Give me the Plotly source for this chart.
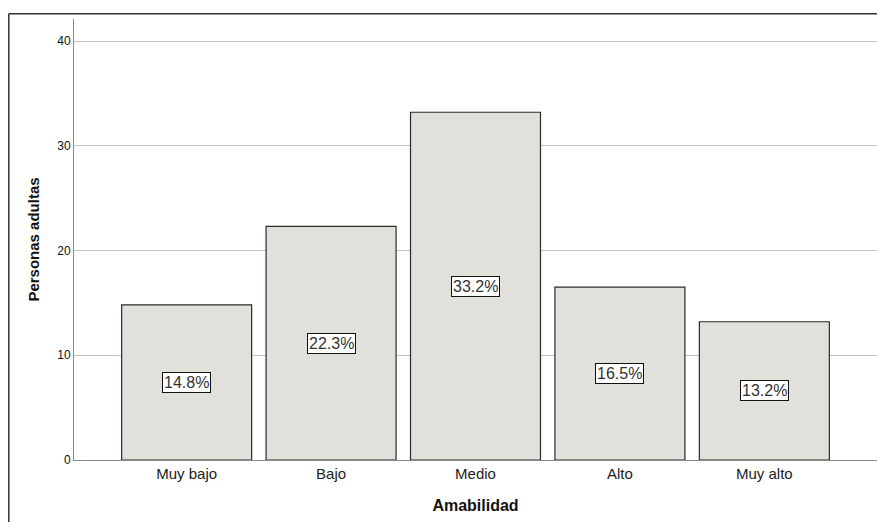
import plotly.graph_objects as go

categories = ["Muy bajo", "Bajo", "Medio", "Alto", "Muy alto"]
values = [14.8, 22.3, 33.2, 16.5, 13.2]
labels = ["14.8%", "22.3%", "33.2%", "16.5%", "13.2%"]
y_ticks = [0, 10, 20, 30, 40]

W, H = 877, 522
L, R, T, B = 74, 0, 19, 62
pw = W - L - R
ph = H - T - B

fig = go.Figure(go.Bar(
    x=categories,
    y=values,
    width=0.9,
    marker=dict(color="#e2e0db", line=dict(color="#2a2a2a", width=1.2)),
    hoverinfo="skip",
))

# percentage boxes in the middle of each bar
for c, v, lab in zip(categories, values, labels):
    fig.add_annotation(
        x=c, y=v / 2, text=lab, showarrow=False,
        font=dict(family="Liberation Sans, Arial", size=16, color="#333333"),
        bgcolor="white", bordercolor="#111111", borderwidth=1, borderpad=1,
    )

# outer frame (left and top edges visible)
fx = (8.8 - L) / pw
fy = 1 + (T - 13.8) / ph
fig.add_shape(type="line", xref="paper", yref="paper", x0=fx, x1=fx, y0=-0.3, y1=fy,
              line=dict(color="#333333", width=1.5))
fig.add_shape(type="line", xref="paper", yref="paper", x0=fx, x1=1.1, y0=fy, y1=fy,
              line=dict(color="#333333", width=1.5))

fig.update_layout(
    width=W, height=H,
    margin=dict(l=L, r=R, t=T, b=B),
    paper_bgcolor="white",
    plot_bgcolor="white",
    showlegend=False,
    font=dict(family="Liberation Sans, Arial", color="#222222"),
    xaxis=dict(
        range=[-0.78, 4.78],
        showgrid=False,
        showline=True, linecolor="#8a8a8a", linewidth=1,
        ticks="", tickfont=dict(size=15, color="#222222"),
        title=dict(text="<b>Amabilidad</b>", font=dict(size=16, color="#111111"), standoff=18),
    ),
    yaxis=dict(
        range=[0, 42.1],
        tickvals=y_ticks,
        showgrid=True, gridcolor="#c4c4c4", gridwidth=1,
        showline=True, linecolor="#8a8a8a", linewidth=1,
        zeroline=False,
        ticks="", tickfont=dict(size=12, color="#111111"),
        title=dict(text="<b>Personas adultas</b>", font=dict(size=15, color="#111111"), standoff=13),
    ),
)

# drop the default page margin so the figure sits at the window's corner
fig.write_html(
    "out.html",
    config={"displayModeBar": False},
    post_script="document.body.style.margin='0';document.body.style.overflow='hidden';",
)
